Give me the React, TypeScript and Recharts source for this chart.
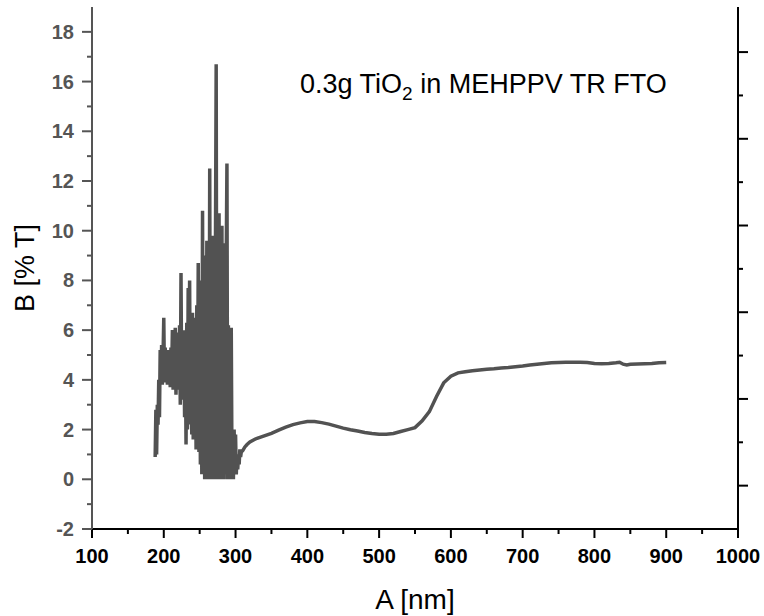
import React from 'react';
import { LineChart, Line, XAxis, YAxis } from 'recharts';

// Noisy UV region, sampled every 1 nm starting at 188 nm
const noisyStartNm = 188;
const noisyTransmittance = [
  0.9, 2.8, 1.0, 3.0, 2.2, 4.0, 2.5, 5.2, 3.8, 5.4,
  3.8, 5.0, 6.5, 3.9, 5.3, 4.0, 5.0, 3.8, 5.2, 3.9,
  4.8, 3.7, 5.3, 4.2, 6.0, 3.6, 5.5, 4.5, 6.1, 3.4,
  5.2, 3.7, 5.9, 3.6, 6.2, 3.0, 8.3, 3.5, 5.8, 3.2,
  6.0, 2.5, 5.5, 1.4, 6.3, 2.0, 7.7, 2.6, 8.0, 2.2,
  6.2, 1.8, 6.7, 1.6, 5.9, 2.3, 6.5, 1.2, 7.0, 2.4,
  8.7, 1.1, 7.2, 0.6, 8.0, 0.2, 10.8, 0.8, 8.6, 0.0,
  9.0, 0.0, 9.6, 0.3, 9.5, 0.0, 12.5, 0.2, 9.2, 0.0,
  9.8, 0.0, 9.5, 0.0, 9.4, 16.7, 0.0, 9.6, 0.0, 10.7,
  0.1, 9.3, 0.0, 10.2, 0.0, 9.0, 0.0, 9.5, 0.2, 8.8,
  12.7, 0.0, 6.2, 0.3, 6.0, 0.0, 6.1, 0.5, 2.0, 0.0,
  2.0, 0.4, 1.8, 0.2, 1.0, 0.4, 0.9, 0.6, 1.2, 0.9,
  1.1,
];

// Smooth visible / NIR region
const smoothNm = [
  310, 313, 316, 320, 325, 330, 340, 350, 360, 370, 380, 390, 400, 410, 420,
  430, 440, 450, 460, 470, 480, 490, 500, 510, 520, 530, 540, 550, 560, 570,
  580, 590, 600, 610, 620, 630, 640, 650, 660, 670, 680, 690, 700, 710, 720,
  730, 740, 750, 760, 770, 780, 790, 800, 810, 820, 830, 835, 840, 845, 850,
  860, 870, 880, 890, 900,
];
const smoothTransmittance = [
  1.15, 1.3, 1.4, 1.5, 1.58, 1.65, 1.75, 1.85, 1.98, 2.1, 2.2, 2.27, 2.32, 2.32, 2.28,
  2.22, 2.14, 2.06, 1.99, 1.94, 1.88, 1.84, 1.81, 1.81, 1.84, 1.92, 2.0, 2.08, 2.35, 2.72,
  3.33, 3.88, 4.15, 4.28, 4.33, 4.37, 4.4, 4.43, 4.45, 4.48, 4.5, 4.53, 4.56, 4.6, 4.63,
  4.66, 4.69, 4.7, 4.71, 4.71, 4.71, 4.7, 4.66, 4.65, 4.66, 4.69, 4.71, 4.63, 4.6, 4.63,
  4.64, 4.65, 4.66, 4.69, 4.7,
];

const xTicks = [100, 150, 200, 250, 300, 350, 400, 450, 500, 550, 600, 650, 700, 750, 800, 850, 900, 950, 1000];
const xMajor = [100, 200, 300, 400, 500, 600, 700, 800, 900, 1000];
const yTicks = [-2, -1, 0, 1, 2, 3, 4, 5, 6, 7, 8, 9, 10, 11, 12, 13, 14, 15, 16, 17, 18];
const yMajor = [-2, 0, 2, 4, 6, 8, 10, 12, 14, 16, 18];
const rightTicks = [0, 0.5, 1, 1.5, 2, 2.5, 3, 3.5, 4, 4.5, 5];
const rightMajor = [0, 1, 2, 3, 4, 5];

const data = [
  ...noisyTransmittance.map((t, i) => ({ nm: noisyStartNm + i, t })),
  ...smoothNm.map((nm, i) => ({ nm, t: smoothTransmittance[i] })),
];

const tickFont = "'Liberation Sans', Arial, sans-serif";
const titleFont = "'Liberation Sans Narrow', 'Liberation Sans', Arial, sans-serif";

const BottomTick = (props: any) => {
  const { x, y, payload } = props;
  const v = payload.value;
  const major = xMajor.includes(v);
  return (
    <g>
      <line x1={x} y1={y} x2={x} y2={y + (major ? 9 : 5)} stroke="#000" strokeWidth={2} />
      {major && (
        <text x={x} y={y + 34} textAnchor="middle" fontFamily={tickFont} fontWeight="bold" fontSize={20} fill="#000">
          {v}
        </text>
      )}
    </g>
  );
};

const TopTick = (props: any) => {
  const { x, y, payload } = props;
  const major = xMajor.includes(payload.value);
  return <line x1={x} y1={y} x2={x} y2={y + (major ? 10 : 5)} stroke="#000" strokeWidth={2} />;
};

const LeftTick = (props: any) => {
  const { x, y, payload } = props;
  const v = payload.value;
  const major = yMajor.includes(v);
  return (
    <g>
      <line x1={x} y1={y} x2={x - (major ? 10 : 5)} y2={y} stroke="#555" strokeWidth={2} />
      {major && (
        <text x={x - 18} y={y + 7} textAnchor="end" fontFamily={tickFont} fontWeight="bold" fontSize={20} fill="#555">
          {v}
        </text>
      )}
    </g>
  );
};

const RightTick = (props: any) => {
  const { x, y, payload } = props;
  const major = rightMajor.includes(payload.value);
  return <line x1={x} y1={y} x2={x + (major ? 10 : 5)} y2={y} stroke="#000" strokeWidth={2} />;
};

export default function App() {
  return (
    <div style={{ position: 'absolute', left: 0, top: 0, background: '#fff' }}>
      <LineChart width={764} height={616} data={data} margin={{ top: 7, right: 6, bottom: 0, left: 0 }}>
        <XAxis
          xAxisId="bottom"
          dataKey="nm"
          type="number"
          domain={[100, 1000]}
          allowDataOverflow
          ticks={xTicks}
          interval={0}
          tickSize={0}
          tickMargin={0}
          tickLine={false}
          tick={(p: any) => <BottomTick {...p} />}
          axisLine={{ stroke: '#000', strokeWidth: 2 }}
          height={87}
          label={{
            value: 'A [nm]',
            position: 'insideBottom',
            offset: 7,
            style: { fontFamily: titleFont, fontSize: 28, fill: '#000' },
          }}
        />
        <XAxis
          xAxisId="top"
          orientation="top"
          dataKey="nm"
          type="number"
          domain={[100, 1000]}
          allowDataOverflow
          ticks={xTicks}
          interval={0}
          tickSize={0}
          tickMargin={0}
          tickLine={false}
          tick={(p: any) => <TopTick {...p} />}
          axisLine={{ stroke: '#000', strokeWidth: 2 }}
          height={0}
        />
        <YAxis
          yAxisId="left"
          type="number"
          domain={[-2, 19]}
          allowDataOverflow
          ticks={yTicks}
          interval={0}
          tickSize={0}
          tickMargin={0}
          tickLine={false}
          tick={(p: any) => <LeftTick {...p} />}
          axisLine={{ stroke: '#555', strokeWidth: 2 }}
          width={92}
          label={{
            value: 'B [% T]',
            angle: -90,
            position: 'insideLeft',
            offset: 24,
            style: { textAnchor: 'middle', fontFamily: titleFont, fontSize: 27, fill: '#000' },
          }}
        />
        <YAxis
          yAxisId="right"
          orientation="right"
          type="number"
          domain={[-0.5, 5.52]}
          allowDataOverflow
          ticks={rightTicks}
          interval={0}
          tickSize={0}
          tickMargin={0}
          tickLine={false}
          tick={(p: any) => <RightTick {...p} />}
          axisLine={{ stroke: '#000', strokeWidth: 2 }}
          width={20}
        />
        <Line
          xAxisId="bottom"
          yAxisId="left"
          dataKey="t"
          type="linear"
          stroke="#525252"
          strokeWidth={3.5}
          dot={false}
          isAnimationActive={false}
        />
        <text x={300} y={93} fontFamily={tickFont} fontSize={27} fill="#000">
          0.3g TiO
          <tspan fontSize={19} dy={7}>2</tspan>
          <tspan dy={-7}> in MEHPPV TR FTO</tspan>
        </text>
      </LineChart>
    </div>
  );
}
